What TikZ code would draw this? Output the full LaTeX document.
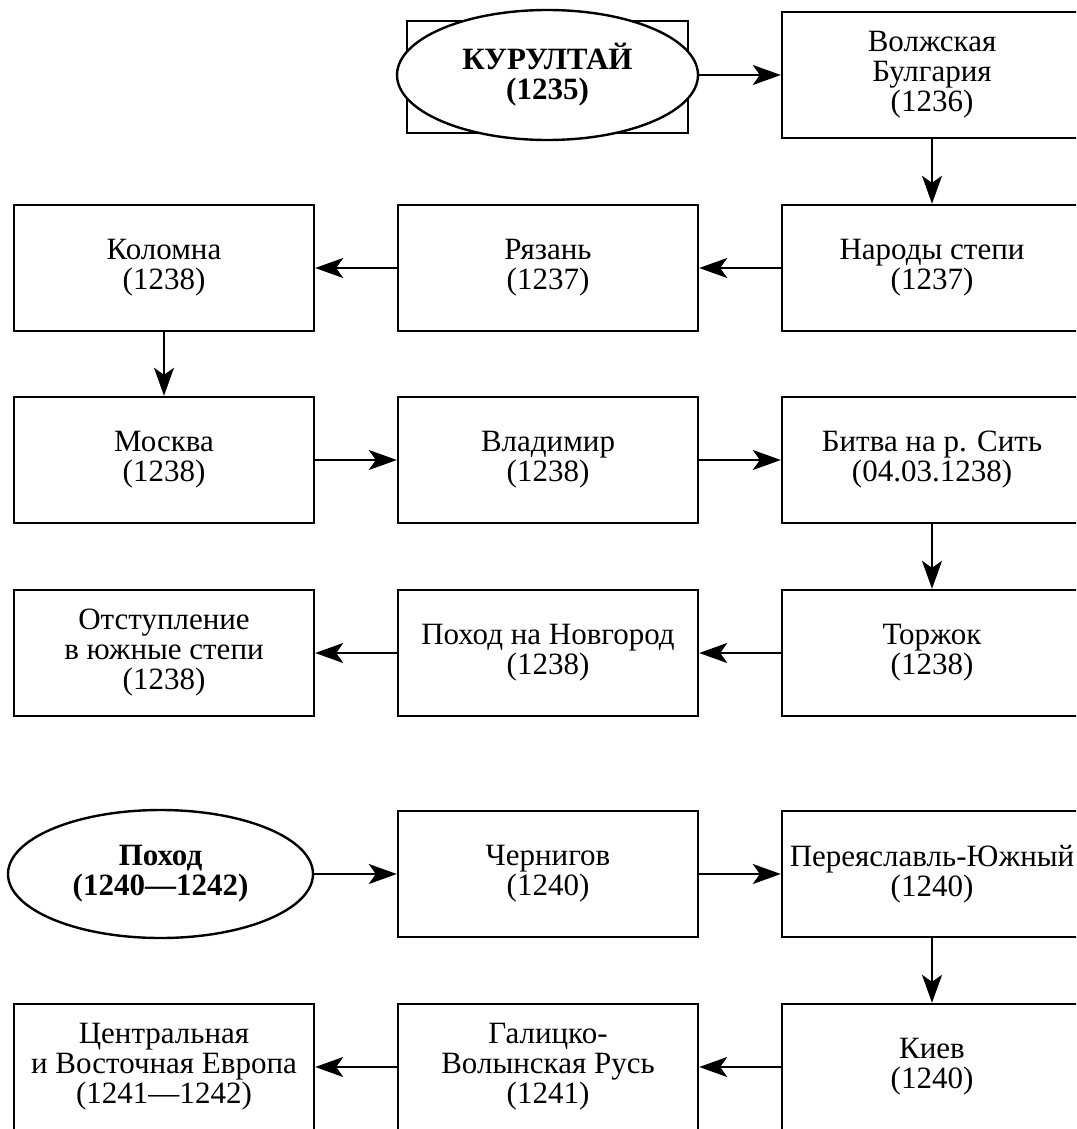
\documentclass[tikz,border=0pt]{standalone}
\usepackage{fontspec}
\setmainfont{Liberation Serif}
\usetikzlibrary{shapes.geometric, arrows.meta}

\tikzset{
    stage/.style={draw, line width=1.2pt, minimum width=150pt, minimum height=63pt,
        inner sep=0pt, align=center, font=\fontsize{15.5}{15}\selectfont},
    council/.style={draw, ellipse, fill=white, line width=1.2pt, inner sep=0pt,
        align=center, font=\bfseries\fontsize{15.5}{15}\selectfont},
    go/.style={line width=1.1pt, -{Stealth[length=14pt, width=10pt, inset=3.5pt]}}
}

\begin{document}
\begin{tikzpicture}[x=0.5pt, y=-0.5pt]
        \clip (0,0) rectangle (1076,1129);
        % first campaign
        \node[stage, minimum width=140.5pt, minimum height=56pt] (frame) at (547.5,77) {};
        \node[council, minimum width=150.5pt, minimum height=65pt] (kurultai) at (547.5,75) {КУРУЛТАЙ\\(1235)};
        \node[stage] (bulgaria) at (932,75) {Волжская\\Булгария\\(1236)};
        \node[stage] (steppe) at (932,268) {Народы степи\\(1237)};
        \node[stage] (ryazan) at (548,268) {Рязань\\(1237)};
        \node[stage] (kolomna) at (164,268) {Коломна\\(1238)};
        \node[stage] (moscow) at (164,460) {Москва\\(1238)};
        \node[stage] (vladimir) at (548,460) {Владимир\\(1238)};
        \node[stage] (sit) at (932,460) {Битва на р. Сить\\(04.03.1238)};
        \node[stage] (torzhok) at (932,653) {Торжок\\(1238)};
        \node[stage] (novgorod) at (548,653) {Поход на Новгород\\(1238)};
        \node[stage] (retreat) at (164,653) {Отступление\\в южные степи\\(1238)};
        \draw[go] (kurultai) -- (bulgaria);
        \draw[go] (bulgaria) -- (steppe);
        \draw[go] (steppe) -- (ryazan);
        \draw[go] (ryazan) -- (kolomna);
        \draw[go] (kolomna) -- (moscow);
        \draw[go] (moscow) -- (vladimir);
        \draw[go] (vladimir) -- (sit);
        \draw[go] (sit) -- (torzhok);
        \draw[go] (torzhok) -- (novgorod);
        \draw[go] (novgorod) -- (retreat);
        % second campaign
        \node[council, minimum width=152.5pt, minimum height=64pt] (march) at (160.5,874) {Поход\\(1240—1242)};
        \node[stage] (chernigov) at (548,874) {Чернигов\\(1240)};
        \node[stage] (pereyaslavl) at (932,874) {Переяславль-Южный\\(1240)};
        \node[stage] (kiev) at (932,1067) {Киев\\(1240)};
        \node[stage] (galicia) at (548,1067) {Галицко-\\Волынская Русь\\(1241)};
        \node[stage] (europe) at (164,1067) {Центральная\\и Восточная Европа\\(1241—1242)};
        \draw[go] (march) -- (chernigov);
        \draw[go] (chernigov) -- (pereyaslavl);
        \draw[go] (pereyaslavl) -- (kiev);
        \draw[go] (kiev) -- (galicia);
        \draw[go] (galicia) -- (europe);
\end{tikzpicture}
\end{document}
